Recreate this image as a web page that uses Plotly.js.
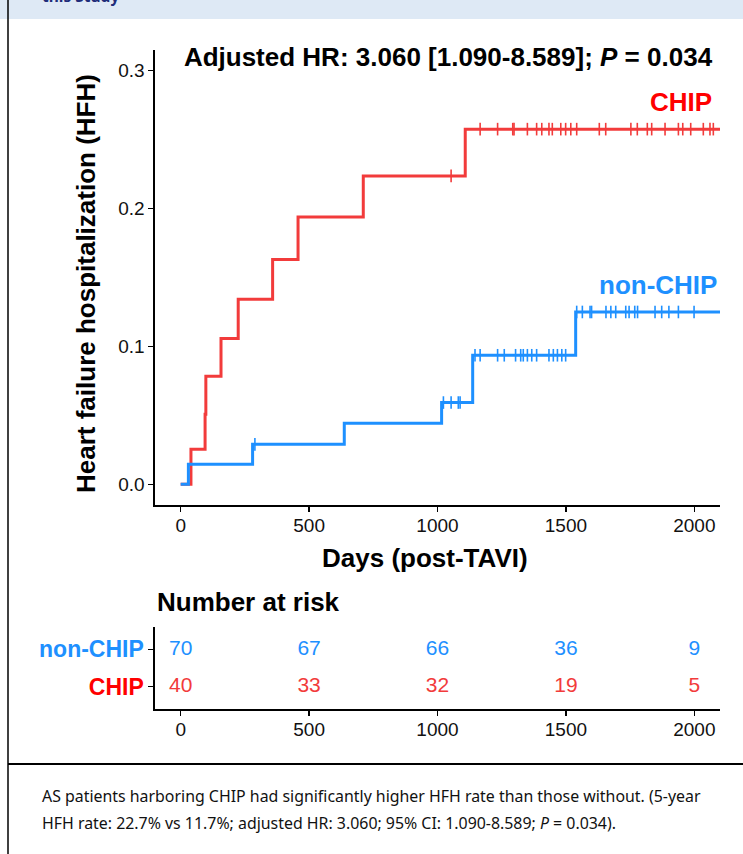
<!DOCTYPE html>
<html>
<head>
<meta charset="utf-8">
<script src="https://cdn.plot.ly/plotly-3.0.1.min.js"></script>
<style>
  html, body { margin: 0; padding: 0; background: #ffffff; }
  #chart { width: 743px; height: 854px; }
</style>
</head>
<body>
<div id="chart"></div>
<script>
// ---------------- data ----------------
const chipTimes = [0, 40, 95, 98, 157, 224, 358, 457, 711, 1108, 2100];
const chipHFH   = [0, 0.0254, 0.0508, 0.0784, 0.1057, 0.1343, 0.1630, 0.1938, 0.2237, 0.2576, 0.2576];
const chipCensor = [1053, 1166, 1234, 1293, 1298, 1350, 1386, 1406, 1434, 1447, 1480, 1499, 1519, 1542,
                    1630, 1655, 1753, 1778, 1817, 1834, 1886, 1938, 1955, 1986, 2035, 2061, 2074];

const nonTimes = [0, 30, 280, 637, 1016, 1137, 1538, 2100];
const nonHFH   = [0, 0.0145, 0.0290, 0.0443, 0.0593, 0.0936, 0.1250, 0.1250];
const nonCensor = [289, 1023, 1053, 1081, 1088, 1146, 1166, 1234, 1260, 1304, 1324, 1334, 1350, 1367, 1386,
                   1434, 1451, 1467, 1484, 1499, 1542, 1564, 1594, 1600, 1656, 1675, 1694, 1733, 1746,
                   1768, 1779, 1847, 1873, 1901, 1938, 1999];

const riskTimes = [0, 500, 1000, 1500, 2000];
const nonRisk   = [70, 67, 66, 36, 9];
const chipRisk  = [40, 33, 32, 19, 5];

const xTicks = [0, 500, 1000, 1500, 2000];
const yTicks = [0.0, 0.1, 0.2, 0.3];
const groupLabels = ['CHIP', 'non-CHIP'];

// ---------------- styles ----------------
const RED_LINE = '#F23B3B';
const RED_TXT  = '#FF0000';
const BLUE     = '#1E90FF';
const FONT     = 'Liberation Sans, Arial, Helvetica, sans-serif';
const W = 743, H = 854;

function stepValue(times, vals, t) {
  let v = vals[0];
  for (let i = 0; i < times.length; i++) { if (times[i] <= t) v = vals[i]; }
  return v;
}

const traces = [
  { x: chipTimes, y: chipHFH, type: 'scatter', mode: 'lines', line: { shape: 'hv', color: RED_LINE, width: 3 },
    name: 'CHIP', showlegend: false, xaxis: 'x', yaxis: 'y' },
  { x: nonTimes, y: nonHFH, type: 'scatter', mode: 'lines', line: { shape: 'hv', color: BLUE, width: 3 },
    name: 'non-CHIP', showlegend: false, xaxis: 'x', yaxis: 'y' },
  { x: chipCensor, y: chipCensor.map(t => stepValue(chipTimes, chipHFH, t)), type: 'scatter', mode: 'markers',
    marker: { symbol: 'line-ns', size: 9, line: { color: RED_LINE, width: 1.6 } },
    showlegend: false, xaxis: 'x', yaxis: 'y' },
  { x: nonCensor, y: nonCensor.map(t => stepValue(nonTimes, nonHFH, t)), type: 'scatter', mode: 'markers',
    marker: { symbol: 'line-ns', size: 9, line: { color: BLUE, width: 1.6 } },
    showlegend: false, xaxis: 'x', yaxis: 'y' },
  { x: riskTimes, y: riskTimes.map(() => 2), text: nonRisk.map(String), type: 'scatter', mode: 'text',
    textposition: 'middle center', textfont: { family: FONT, size: 21, color: BLUE },
    showlegend: false, xaxis: 'x2', yaxis: 'y2' },
  { x: riskTimes, y: riskTimes.map(() => 1), text: chipRisk.map(String), type: 'scatter', mode: 'text',
    textposition: 'middle center', textfont: { family: FONT, size: 21, color: RED_LINE },
    showlegend: false, xaxis: 'x2', yaxis: 'y2' }
];

const axisCommon = {
  showline: true, linecolor: '#000', linewidth: 1.6, mirror: false,
  ticks: 'outside', ticklen: 5, tickwidth: 1.6, tickcolor: '#000',
  showgrid: false, zeroline: false,
  tickfont: { family: FONT, size: 19, color: '#111' }
};

const xDom = [155 / W, 720 / W];

const layout = {
  width: W, height: H,
  margin: { l: 0, r: 0, t: 0, b: 0 },
  paper_bgcolor: '#ffffff', plot_bgcolor: 'rgba(0,0,0,0)',
  showlegend: false,
  title: {
    text: '<b>Adjusted HR: 3.060 [1.090-8.589]; <i>P</i> = 0.034</b>',
    font: { family: FONT, size: 26, color: '#000' },
    x: 448 / W, xanchor: 'center', y: 1 - 57 / H, yanchor: 'middle'
  },
  xaxis: Object.assign({}, axisCommon, {
    domain: xDom, range: [-100, 2100], anchor: 'y',
    tickvals: xTicks, ticktext: xTicks.map(String), ticklabelstandoff: -2
  }),
  yaxis: Object.assign({}, axisCommon, {
    domain: [(H - 505) / H, (H - 50) / H], range: [-0.015, 0.315], anchor: 'x',
    tickvals: yTicks, ticktext: yTicks.map(v => v.toFixed(1))
  }),
  xaxis2: Object.assign({}, axisCommon, {
    domain: xDom, range: [-100, 2100], anchor: 'y2',
    tickvals: xTicks, ticktext: xTicks.map(String), ticklabelstandoff: -2
  }),
  yaxis2: Object.assign({}, axisCommon, {
    domain: [(H - 709) / H, (H - 627) / H], range: [0.4, 2.6], anchor: 'x2',
    tickvals: [1, 2],
    ticktext: ['<span style="color:' + RED_TXT + '"><b>' + groupLabels[0] + '</b></span>',
               '<span style="color:' + BLUE + '"><b>' + groupLabels[1] + '</b></span>'],
    tickfont: { family: FONT, size: 23, color: '#000' }
  }),
  shapes: [
    { type: 'rect', xref: 'paper', yref: 'paper', x0: 0, x1: 1, y0: 1 - 19 / H, y1: 1,
      fillcolor: '#DEE9F5', line: { width: 0 }, layer: 'below' },
    { type: 'line', xref: 'paper', yref: 'paper', x0: 8 / W, x1: 8 / W, y0: 0, y1: 1,
      line: { color: '#000', width: 1.5 } },
    { type: 'line', xref: 'paper', yref: 'paper', x0: 8 / W, x1: 1, y0: 1 - 764 / H, y1: 1 - 764 / H,
      line: { color: '#000', width: 2 } }
  ],
  annotations: [
    { text: '<b>this Study</b>', xref: 'paper', yref: 'paper', x: 40 / W, y: 1 + 4 / H,
      xanchor: 'left', yanchor: 'middle', showarrow: false,
      font: { family: 'Noto Sans, sans-serif', size: 15.5, color: '#1F2D7A' } },
    // axis titles
    { text: '<b>Days (post-TAVI)</b>', xref: 'paper', yref: 'paper', x: 424.5 / W, y: 1 - 558 / H,
      xanchor: 'center', yanchor: 'middle', showarrow: false,
      font: { family: FONT, size: 26, color: '#000' } },
    { text: '<b>Heart failure hospitalization (HFH)</b>', xref: 'paper', yref: 'paper', x: 86 / W, y: 1 - 284 / H,
      xanchor: 'center', yanchor: 'middle', textangle: -90, showarrow: false,
      font: { family: FONT, size: 26, color: '#000' } },
    { text: '<b>CHIP</b>', xref: 'paper', yref: 'paper', x: 714 / W, y: 1 - 102 / H,
      xanchor: 'right', yanchor: 'middle', showarrow: false,
      font: { family: FONT, size: 26, color: RED_TXT } },
    { text: '<b>non-CHIP</b>', xref: 'paper', yref: 'paper', x: 719 / W, y: 1 - 285 / H,
      xanchor: 'right', yanchor: 'middle', showarrow: false,
      font: { family: FONT, size: 26, color: BLUE } },
    { text: '<b>Number at risk</b>', xref: 'paper', yref: 'paper', x: 155 / W, y: 1 - 602 / H,
      xanchor: 'left', yanchor: 'middle', showarrow: false,
      font: { family: FONT, size: 26, color: '#000' } },
    { text: 'AS patients harboring CHIP had significantly higher HFH rate than those without. (5-year',
      xref: 'paper', yref: 'paper', x: 40 / W, y: 1 - 796 / H,
      xanchor: 'left', yanchor: 'middle', showarrow: false, align: 'left',
      font: { family: 'Noto Sans, sans-serif', size: 15.9, color: '#111' } },
    { text: 'HFH rate: 22.7% vs 11.7%; adjusted HR: 3.060; 95% CI: 1.090-8.589; <i>P</i> = 0.034).',
      xref: 'paper', yref: 'paper', x: 40 / W, y: 1 - 823 / H,
      xanchor: 'left', yanchor: 'middle', showarrow: false, align: 'left',
      font: { family: 'Noto Sans, sans-serif', size: 15.9, color: '#111' } }
  ]
};

Plotly.newPlot('chart', traces, layout, { staticPlot: true, displayModeBar: false });
</script>
</body>
</html>
